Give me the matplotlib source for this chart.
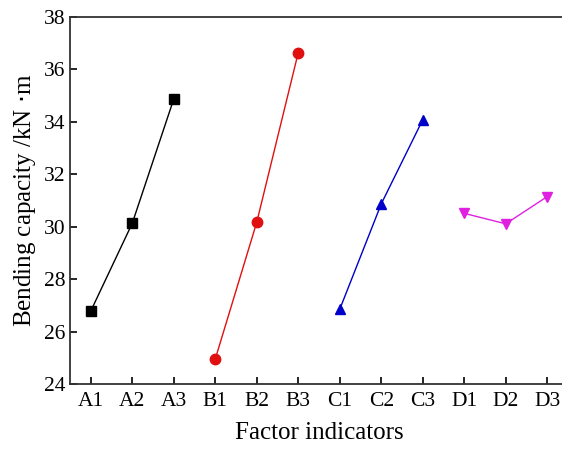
import matplotlib
matplotlib.use("Agg")
import matplotlib.pyplot as plt

plt.rcParams['font.family'] = ['Liberation Serif', 'DejaVu Serif']

tick_labels = ["A1", "A2", "A3", "B1", "B2", "B3", "C1", "C2", "C3", "D1", "D2", "D3"]
a_values = [26.78, 30.13, 34.87]
b_values = [24.95, 30.17, 36.64]
c_values = [26.85, 30.87, 34.08]
d_values = [30.51, 30.11, 31.15]

fig = plt.figure(figsize=(5.62, 4.5), dpi=100)
# right edge of the axes runs slightly past the image, as in the reference
ax = fig.add_axes([70 / 562, 1 - 384 / 450, 498 / 562, 367 / 450])

groups = [
    (a_values, "black", "s"),
    (b_values, "#e01010", "o"),
    (c_values, "#0000c8", "^"),
    (d_values, "#e020e0", "v"),
]
for i, (vals, color, marker) in enumerate(groups):
    xs = [3 * i + k + 1 for k in range(3)]
    ax.plot(xs, vals, color=color, marker=marker, markersize=7.5, linewidth=1)

ax.set_xlim(0.5, 12.5)
ax.set_ylim(24, 38)
ax.set_xticks(range(1, 13))
ax.set_xticklabels(tick_labels)
ax.set_yticks(range(24, 39, 2))
ax.tick_params(direction="in", labelsize=15.5, length=5, width=1.2)
ax.tick_params(axis="x", pad=6)
ax.spines["right"].set_visible(False)
for s in ["left", "bottom", "top"]:
    ax.spines[s].set_linewidth(1.3)
    ax.spines[s].set_color("#333333")

ax.set_xlabel("Factor indicators", fontsize=18, labelpad=8)
ax.set_ylabel("Bending capacity /kN $\\cdot$m", fontsize=18)

fig.savefig("out.png", dpi=100)
